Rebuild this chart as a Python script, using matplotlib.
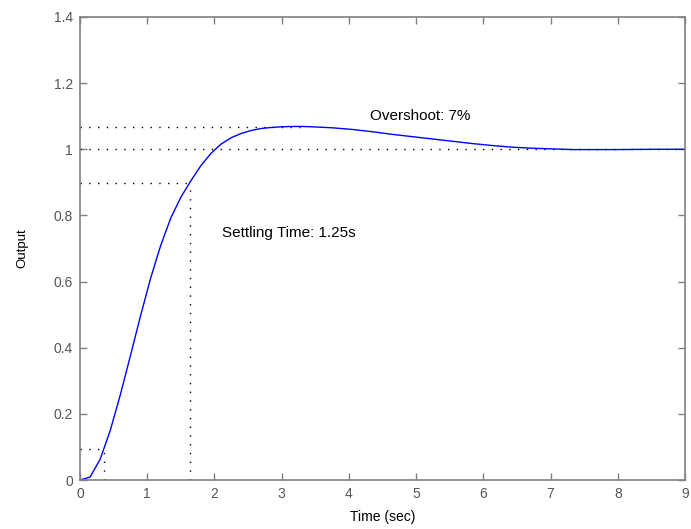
import matplotlib
matplotlib.use("Agg")
import matplotlib.pyplot as plt

plt.rcParams["font.family"] = ["Liberation Sans", "DejaVu Sans"]

# step response
t_s = [0, 0.15, 0.30, 0.45, 0.60, 0.75, 0.90, 1.05, 1.20, 1.35, 1.50, 1.65,
       1.80, 1.95, 2.10, 2.25, 2.40, 2.55, 2.70, 2.85, 3.00, 3.15, 3.30, 3.45,
       3.75, 4.05, 4.35, 4.65, 4.95, 5.25, 5.55, 5.85, 6.15, 6.45, 6.75, 7.05,
       7.35, 7.65, 7.95, 8.25, 8.55, 8.85, 9.0]
output = [0, 0.009, 0.063, 0.150, 0.258, 0.376, 0.496, 0.610, 0.709, 0.792,
          0.855, 0.905, 0.951, 0.988, 1.016, 1.035, 1.048, 1.057, 1.063, 1.066,
          1.068, 1.069, 1.069, 1.068, 1.065, 1.060, 1.053, 1.045, 1.038, 1.031,
          1.024, 1.017, 1.011, 1.006, 1.003, 1.001, 0.999, 0.999, 0.999, 0.9995,
          1.0, 1.0, 1.0]

final_value = 1.0
peak_t, peak_y = 3.27, 1.068
lo_t, lo_y = 0.35, 0.095
hi_t, hi_y = 1.63, 0.897

x_ticks = list(range(0, 10))
y_ticks = [0, 0.2, 0.4, 0.6, 0.8, 1.0, 1.2, 1.4]
y_labels = ["0", "0.2", "0.4", "0.6", "0.8", "1", "1.2", "1.4"]

fig = plt.figure(figsize=(6.91, 5.29), dpi=100)
ax = fig.add_axes([0.1158, 0.0926, 0.8755, 0.8753])

dot = dict(color="black", lw=1.0, dashes=(1, 5.3))
ax.plot([0, 9], [final_value, final_value], **dot)
ax.plot([0, peak_t], [peak_y, peak_y], **dot)
ax.plot([0, hi_t], [hi_y, hi_y], **dot)
ax.plot([hi_t, hi_t], [0, hi_y], **dot)
ax.plot([0, lo_t], [lo_y, lo_y], **dot)
ax.plot([lo_t, lo_t], [0, lo_y], **dot)

ax.plot(t_s, output, color="blue", lw=1.0)

ax.text(4.32, 1.10, "Overshoot: 7%", fontsize=11, va="center", ha="left")
ax.text(2.11, 0.748, "Settling Time: 1.25s", fontsize=11, va="center", ha="left")

ax.set_xlim(0, 9)
ax.set_ylim(0, 1.4)
ax.set_xticks(x_ticks)
ax.set_yticks(y_ticks)
ax.set_yticklabels(y_labels)
ax.tick_params(direction="in", length=5, width=1, color="#808080",
               labelcolor="#555555", labelsize=10, top=True, right=True, pad=5)
for sp in ax.spines.values():
    sp.set_color("#808080")
    sp.set_linewidth(1.2)

ax.set_xlabel("Time (sec)", fontsize=10, labelpad=6.5)
ax.set_ylabel("Output", fontsize=9.5, labelpad=18,
              family=["Liberation Sans Narrow", "Liberation Sans"])

fig.savefig("out.png", dpi=100)
